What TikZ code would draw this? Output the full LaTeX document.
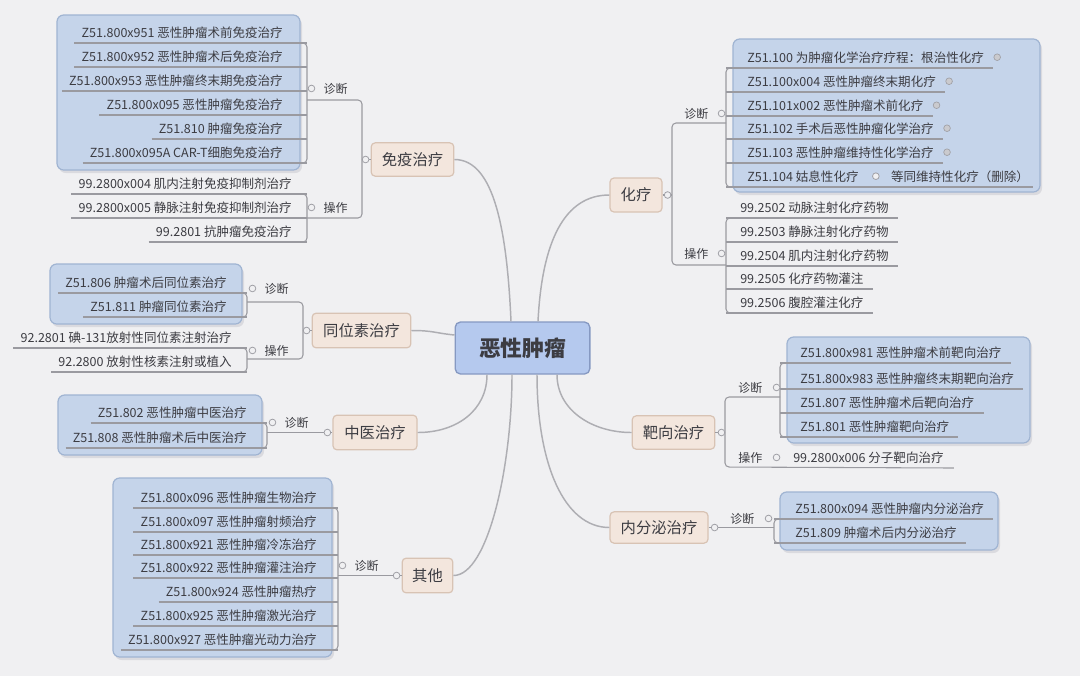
\documentclass[tikz,border=0pt]{standalone}
\usepackage{fontspec}
\newfontfamily\cjk{Noto Sans CJK SC}
\usetikzlibrary{calc}
\definecolor{bgc}{HTML}{F0F0F2}
\definecolor{lnc}{HTML}{AEAEB3}
\definecolor{ulc}{HTML}{9A9AA0}
\definecolor{circc}{HTML}{A0A0A6}
\definecolor{dotc}{HTML}{CACACE}
\definecolor{mainfill}{HTML}{B5C9EE}
\definecolor{maindraw}{HTML}{8699C2}
\definecolor{brfill}{HTML}{F3E6DD}
\definecolor{brdraw}{HTML}{D8C3B4}
\definecolor{grpfill}{HTML}{C5D4EA}
\definecolor{grpdraw}{HTML}{A0B4D2}
\definecolor{shadc}{HTML}{DADADF}
\definecolor{txt}{HTML}{3C3C42}
\newcommand\mmL[5]{%
  \node[item,anchor=base east] (#1) at (#2,#3-6) {#5};
  \draw[ul] ($(#1.base west)+(-7,6)$) -- (#4,#3);}
\newcommand\mmR[5]{%
  \node[item,anchor=base west] (#1) at (#2,#3-6) {#5};
  \draw[ul] (#4,#3) -- ($(#1.base east)+(9,6)$);}
\newcommand\brL[3]{\draw[brk] (#1-5,#2) -- (#1,#2) -- (#1,#3) -- (#1-5,#3);}
\newcommand\brR[3]{\draw[brk] (#1+5,#2) -- (#1,#2) -- (#1,#3) -- (#1+5,#3);}
\newcommand\grpbox[4]{%
  \path[fill=shadc, rounded corners=5pt] (#1+2,#2+3) rectangle (#3+2,#4+3);
  \path[grp] (#1,#2) rectangle (#3,#4);}
\begin{document}
\begin{tikzpicture}[x=0.75pt,y=-0.75pt,
  item/.style={font=\cjk\fontsize{9.4}{11}\selectfont, text=txt, inner sep=0pt},
  lab/.style={font=\cjk\fontsize{9}{11}\selectfont, text=txt, inner sep=0pt},
  ul/.style={draw=ulc, line width=0.8pt},
  brk/.style={draw=ulc, line width=0.8pt, rounded corners=3pt},
  conn/.style={draw=lnc, line width=1.1pt},
  circ/.style={circle, draw=circc, fill=bgc, line width=0.6pt, inner sep=0pt, minimum size=5pt},
  dot/.style={circle, draw=circc, fill=dotc, line width=0.5pt, inner sep=0pt, minimum size=5pt},
  grp/.style={fill=grpfill, draw=grpdraw, line width=0.9pt, rounded corners=5pt},
  branch/.style={draw=brdraw, fill=brfill, line width=0.9pt, rounded corners=3pt, inner sep=0pt, font=\cjk\fontsize{11.5}{13}\selectfont, text=txt},
  mainn/.style={draw=maindraw, fill=mainfill, line width=1pt, rounded corners=4pt, inner sep=0pt, font=\cjk\bfseries\fontsize{16.3}{18}\selectfont, text=txt, minimum width=101pt, minimum height=39pt}
]
\fill[bgc] (0,0) rectangle (1080,676);
\useasboundingbox (0,0) rectangle (1080,676);

% group boxes
\grpbox{57}{15}{300}{170}
\grpbox{50}{264}{242}{324}
\grpbox{58}{395}{262}{455}
\grpbox{113}{478}{332}{657}
\grpbox{733}{39}{1040}{192}
\grpbox{787}{337}{1030}{443}
\grpbox{780}{492}{998}{550}

% main and branch nodes
\node[mainn] (main) at (522.5,348) {恶性肿瘤};
\node[branch, minimum width=62pt, minimum height=25pt] (mianyi) at (412.5,159.5) {免疫治疗};
\node[branch, minimum width=74pt, minimum height=26pt] (tongwei) at (361.5,330.5) {同位素治疗};
\node[branch, minimum width=63pt, minimum height=26pt] (zhongyi) at (375,432.5) {中医治疗};
\node[branch, minimum width=38pt, minimum height=26pt] (qita) at (427.5,575.5) {其他};
\node[branch, minimum width=39pt, minimum height=25.5pt] (hualiao) at (636,195) {化疗};
\node[branch, minimum width=62pt, minimum height=25pt] (baxiang) at (673.5,432.5) {靶向治疗};
\node[branch, minimum width=73.5pt, minimum height=23.5pt] (neifen) at (659,527.5) {内分泌治疗};

% curved connectors
\draw[conn] (mianyi.east) .. controls +(40,0) and +(-4,-90) .. (main.north -| 511,0);
\draw[conn] (hualiao.west) .. controls +(-45,0) and +(4,-80) .. (main.north -| 538,0);
\draw[conn] (tongwei.east) .. controls +(22,0) and +(-20,-2) .. (main.west |- 0,335);
\draw[conn] (zhongyi.east) .. controls +(40,0) and +(0,35) .. (main.south -| 487,0);
\draw[conn] (qita.east) .. controls +(35,0) and +(0,90) .. (main.south -| 512,0);
\draw[conn] (baxiang.west) .. controls +(-40,0) and +(0,35) .. (main.south -| 557,0);
\draw[conn] (neifen.west) .. controls +(-45,0) and +(0,90) .. (main.south -| 537,0);

% ---------- 免疫治疗 ----------
\mmL{m1}{283}{43}{307}{Z51.800x951 恶性肿瘤术前免疫治疗}
\mmL{m2}{283}{67}{307}{Z51.800x952 恶性肿瘤术后免疫治疗}
\mmL{m3}{283}{91}{307}{Z51.800x953 恶性肿瘤终末期免疫治疗}
\mmL{m4}{283}{115}{307}{Z51.800x095 恶性肿瘤免疫治疗}
\mmL{m5}{283}{139}{307}{Z51.810 肿瘤免疫治疗}
\mmL{m6}{283}{163}{307}{Z51.800x095A CAR-T细胞免疫治疗}
\brL{307}{43}{163}
\mmL{m7}{292}{194}{307}{99.2800x004 肌内注射免疫抑制剂治疗}
\mmL{m8}{292}{218}{307}{99.2800x005 静脉注射免疫抑制剂治疗}
\mmL{m9}{292}{242}{307}{99.2801 抗肿瘤免疫治疗}
\brL{307}{194}{242}
\node[lab, anchor=base east] (mzd) at (348,93) {诊断};
\node[lab, anchor=base east] (mcz) at (348,212) {操作};
\draw[brk] (307,100) -- (362,100) -- (362,218) -- (307,218);
\draw[ul] (362,159.5) -- (mianyi.west);
\node[circ] (mzdc) at ($(mzd.west)+(-12,0)$) {};
\node[circ] (mczc) at ($(mcz.west)+(-12,0)$) {};
\node[circ] (mianyic) at ($(mianyi.west)+(-5,0)$) {};

% ---------- 同位素治疗 ----------
\mmL{t1}{227}{293}{247}{Z51.806 肿瘤术后同位素治疗}
\mmL{t2}{227}{317}{247}{Z51.811 肿瘤同位素治疗}
\brL{247}{293}{317}
\mmL{t3}{232}{348}{247}{92.2801 碘-131放射性同位素注射治疗}
\mmL{t4}{232}{372}{247}{92.2800 放射性核素注射或植入}
\brL{247}{348}{372}
\node[lab, anchor=base east] (tzd) at (289,293) {诊断};
\node[lab, anchor=base east] (tcz) at (289,355) {操作};
\draw[brk] (247,302) -- (303,302) -- (303,359) -- (247,359);
\draw[ul] (303,330.5) -- (tongwei.west);
\node[circ] (tzdc) at ($(tzd.west)+(-12,0)$) {};
\node[circ] (tczc) at ($(tcz.west)+(-12,0)$) {};
\node[circ] (tongweic) at ($(tongwei.west)+(-5,0)$) {};

% ---------- 中医治疗 ----------
\mmL{z1}{247}{423}{267}{Z51.802 恶性肿瘤中医治疗}
\mmL{z2}{247}{448}{267}{Z51.808 恶性肿瘤术后中医治疗}
\brL{267}{423}{448}
\node[lab, anchor=base east] (zzd) at (309,427) {诊断};
\draw[ul] (267,432.5) -- (zhongyi.west);
\node[circ] (zzdc) at ($(zzd.west)+(-12,0)$) {};
\node[circ] (zhongyic) at ($(zhongyi.west)+(-5,0)$) {};

% ---------- 其他 ----------
\mmL{q1}{317}{508}{338}{Z51.800x096 恶性肿瘤生物治疗}
\mmL{q2}{317}{532}{338}{Z51.800x097 恶性肿瘤射频治疗}
\mmL{q3}{317}{555}{338}{Z51.800x921 恶性肿瘤冷冻治疗}
\mmL{q4}{317}{578}{338}{Z51.800x922 恶性肿瘤灌注治疗}
\mmL{q5}{317}{602}{338}{Z51.800x924 恶性肿瘤热疗}
\mmL{q6}{317}{626}{338}{Z51.800x925 恶性肿瘤激光治疗}
\mmL{q7}{317}{650}{338}{Z51.800x927 恶性肿瘤光动力治疗}
\brL{338}{508}{650}
\node[lab, anchor=base east] (qzd) at (379,570) {诊断};
\draw[ul] (338,575.5) -- (qita.west);
\node[circ] (qzdc) at ($(qzd.west)+(-12,0)$) {};
\node[circ] (qitac) at ($(qita.west)+(-5,0)$) {};

% ---------- 化疗 ----------
\mmR{h1}{747}{68}{726}{Z51.100 为肿瘤化学治疗疗程：根治性化疗}
\mmR{h2}{747}{92}{726}{Z51.100x004 恶性肿瘤终末期化疗}
\mmR{h3}{747}{116}{726}{Z51.101x002 恶性肿瘤术前化疗}
\mmR{h4}{747}{139}{726}{Z51.102 手术后恶性肿瘤化学治疗}
\mmR{h5}{747}{163}{726}{Z51.103 恶性肿瘤维持性化学治疗}
\node[item, anchor=base west] (h6) at (747,181) {Z51.104 姑息性化疗};
\node[item, anchor=base west] (h6b) at ($(h6.base east)+(32,0)$) {等同维持性化疗（删除）};
\draw[ul] (726,187) -- ($(h6b.base east)+(4,6)$);
\brR{726}{68}{187}
\foreach \n in {h1,h2,h3,h4,h5}{\node[dot] (\n c) at ($(\n.east)+(13,0)$) {};}
\node[circ] (h6c) at ($(h6.east)+(17,0)$) {};
\mmR{h7}{740}{218}{726}{99.2502 动脉注射化疗药物}
\mmR{h8}{740}{242}{726}{99.2503 静脉注射化疗药物}
\mmR{h9}{740}{266}{726}{99.2504 肌内注射化疗药物}
\mmR{h10}{740}{289}{726}{99.2505 化疗药物灌注}
\mmR{h11}{740}{313}{726}{99.2506 腹腔灌注化疗}
\brR{726}{218}{313}
\node[lab, anchor=base west] (hzd) at (684,118) {诊断};
\node[lab, anchor=base west] (hcz) at (684,258) {操作};
\draw[brk] (726,123) -- (672,123) -- (672,265) -- (726,265);
\draw[ul] (hualiao.east) -- (672,195);
\node[circ] (hzdc) at ($(hzd.east)+(13,0)$) {};
\node[circ] (hczc) at ($(hcz.east)+(13,0)$) {};
\node[circ] (hualiaoc) at ($(hualiao.east)+(5,0)$) {};

% ---------- 靶向治疗 ----------
\mmR{b1}{800}{363}{780}{Z51.800x981 恶性肿瘤术前靶向治疗}
\mmR{b2}{800}{389}{780}{Z51.800x983 恶性肿瘤终末期靶向治疗}
\mmR{b3}{800}{413}{780}{Z51.807 恶性肿瘤术后靶向治疗}
\mmR{b4}{800}{437}{780}{Z51.801 恶性肿瘤靶向治疗}
\brR{780}{363}{437}
\node[lab, anchor=base west] (bzd) at (738,392) {诊断};
\node[lab, anchor=base west] (bcz) at (738,462) {操作};
\node[item, anchor=base west] (b5) at (793,462) {99.2800x006 分子靶向治疗};
\draw[brk] (780,397) -- (725,397) -- (725,467) -- ($(b5.base east)+(10,6)$);
\draw[ul] (baxiang.east) -- (725,432.5);
\node[circ] (bzdc) at ($(bzd.east)+(14,0)$) {};
\node[circ] (bczc) at ($(bcz.east)+(14,0)$) {};
\node[circ] (baxiangc) at ($(baxiang.east)+(6,0)$) {};

% ---------- 内分泌治疗 ----------
\mmR{n1}{795}{519}{774}{Z51.800x094 恶性肿瘤内分泌治疗}
\mmR{n2}{795}{543}{774}{Z51.809 肿瘤术后内分泌治疗}
\brR{774}{519}{543}
\node[lab, anchor=base west] (nzd) at (730,523) {诊断};
\draw[ul] (neifen.east) -- (774,527.5);
\node[circ] (nzdc) at ($(nzd.east)+(14,0)$) {};
\node[circ] (neifenc) at ($(neifen.east)+(6,0)$) {};
\end{tikzpicture}
\end{document}
